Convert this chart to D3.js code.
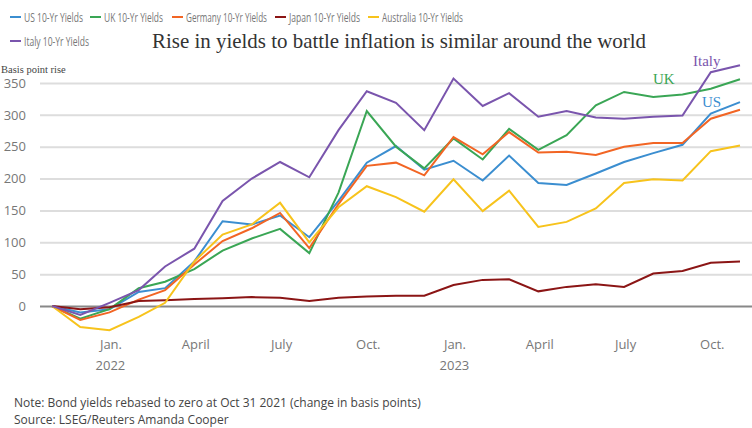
<!DOCTYPE html>
<html><head><meta charset="utf-8">
<script src="https://cdn.jsdelivr.net/npm/d3@7"></script>
<style>body{margin:0;background:#fff}svg{display:block}</style></head>
<body><svg id="c" width="752" height="428"></svg>
<script>
const months = ["2021-10-31","2021-11-30","2021-12-31","2022-01-31","2022-02-28","2022-03-31","2022-04-30","2022-05-31","2022-06-30","2022-07-31","2022-08-31","2022-09-30","2022-10-31","2022-11-30","2022-12-31","2023-01-31","2023-02-28","2023-03-31","2023-04-30","2023-05-31","2023-06-30","2023-07-31","2023-08-31","2023-09-30","2023-10-31"];
const us = [0,-10,-5,22,28,70,133,128,142,108,165,225,251,214,228,197,236,193,190,208,226,240,253,302,320];
const uk = [0,-20,-5,28,38,58,87,106,121,83,178,306,250,216,263,230,278,245,268,315,336,328,332,341,356];
const germany = [0,-22,-10,10,25,65,102,122,146,91,160,220,225,205,265,238,273,241,242,237,250,256,256,294,308];
const japan = [0,-5,-2,8,9,11,12,14,13,8,13,15,16,16,33,41,42,23,30,34,30,51,55,68,70];
const australia = [0,-33,-38,-17,5,70,112,128,162,100,155,188,171,148,199,149,181,124,132,153,193,199,197,243,252];
const italy = [0,-14,5,25,62,90,165,200,226,202,276,337,319,276,357,314,334,297,306,296,294,297,299,367,378];
const yTicks = [0,50,100,150,200,250,300,350];
const xTicks = ["2022-01-01","2022-04-01","2022-07-01","2022-10-01","2023-01-01","2023-04-01","2023-07-01","2023-10-01"];
const xTickLabels = ["Jan.","April","July","Oct.","Jan.","April","July","Oct."];
const series = [
 {name:"US 10-Yr Yields", values:us, color:"#3b8ed0"},
 {name:"UK 10-Yr Yields", values:uk, color:"#3aa655"},
 {name:"Germany 10-Yr Yields", values:germany, color:"#f26524"},
 {name:"Japan 10-Yr Yields", values:japan, color:"#8b1515"},
 {name:"Australia 10-Yr Yields", values:australia, color:"#f7c31c"},
 {name:"Italy 10-Yr Yields", values:italy, color:"#7a55ad"}
];
const parse = d3.utcParse("%Y-%m-%d");
const dates = months.map(parse);
const svg = d3.select("#c");
const x = d3.scaleUtc().domain([dates[0], dates[dates.length-1]]).range([52,740]);
const y = d3.scaleLinear().domain([0,350]).range([306,83]);
const sans = "'Source Sans Pro','Open Sans',Lato,sans-serif";

const ya = svg.append("g").attr("transform","translate(40,0)")
  .call(d3.axisLeft(y).tickValues(yTicks).tickSize(-712).tickPadding(4));
ya.select(".domain").remove();
ya.selectAll(".tick line").attr("stroke",d=>d===0?"#888":"#ddd").attr("stroke-width",2);
ya.selectAll(".tick text").attr("fill","#777").attr("font-size",13).attr("font-family",sans).attr("x",-14);

const xa = svg.append("g").attr("transform","translate(0,306)")
  .call(d3.axisBottom(x).tickValues(xTicks.map(parse)).tickFormat((d,i)=>xTickLabels[i]).tickSize(0).tickPadding(34));
xa.select(".domain").remove();
xa.selectAll(".tick text").attr("fill","#777").attr("font-size",13).attr("font-family",sans);
svg.append("text").attr("x",x(parse("2022-01-01"))).attr("y",370).attr("text-anchor","middle").attr("fill","#777").attr("font-size",13).attr("font-family",sans).text("2022");
svg.append("text").attr("x",x(parse("2023-01-01"))).attr("y",370).attr("text-anchor","middle").attr("fill","#777").attr("font-size",13).attr("font-family",sans).text("2023");

const line = d3.line().x((d,i)=>x(dates[i])).y(d=>y(d));
series.forEach(s=>{
  svg.append("path").datum(s.values).attr("fill","none").attr("stroke",s.color).attr("stroke-width",2).attr("d",line);
});

const legPos = [[10,17,59],[90,17,59],[172,17,81],[275,17,71],[368,17,81],[10,41,65]];
series.forEach((s,i)=>{
  const [lx,ly,w]=legPos[i];
  svg.append("line").attr("x1",lx).attr("x2",lx+11).attr("y1",ly).attr("y2",ly).attr("stroke",s.color).attr("stroke-width",2);
  svg.append("text").attr("x",lx+14).attr("y",ly+4.5).attr("fill","#777").attr("font-size",13).attr("font-family",sans)
    .attr("textLength",w).attr("lengthAdjust","spacingAndGlyphs").text(s.name);
});

const serif = "'Liberation Serif','Times New Roman',serif";
svg.append("text").attr("x",152).attr("y",48).attr("font-family",serif).attr("font-size",21).attr("fill","#333")
  .attr("textLength",494).attr("lengthAdjust","spacingAndGlyphs").text("Rise in yields to battle inflation is similar around the world");
svg.append("text").attr("x",1).attr("y",73).attr("font-family",serif).attr("font-size",10.5).attr("fill","#444").text("Basis point rise");
svg.append("text").attr("x",693).attr("y",66).attr("font-family",serif).attr("font-size",15).attr("fill","#7a55ad").text("Italy");
svg.append("text").attr("x",653).attr("y",84).attr("font-family",serif).attr("font-size",15).attr("fill","#3aa655").text("UK");
svg.append("text").attr("x",702).attr("y",107).attr("font-family",serif).attr("font-size",15).attr("fill","#3b8ed0").text("US");

svg.append("text").attr("x",14).attr("y",407).attr("font-family",sans).attr("font-size",12).attr("fill","#444").text("Note: Bond yields rebased to zero at Oct 31 2021 (change in basis points)");
svg.append("text").attr("x",14).attr("y",424).attr("font-family",sans).attr("font-size",12).attr("fill","#444").text("Source: LSEG/Reuters Amanda Cooper");
</script></body></html>
